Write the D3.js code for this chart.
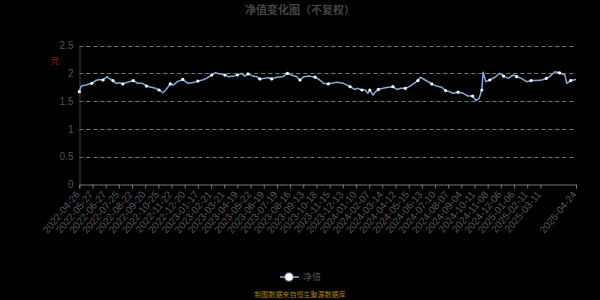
<!DOCTYPE html>
<html>
<head>
<meta charset="utf-8">
<script src="https://cdn.jsdelivr.net/npm/d3@7/dist/d3.min.js"></script>
<style>
  body { margin: 0; background: #000; }
  text { font-family: "Liberation Sans", "Noto Sans CJK SC", sans-serif; }
</style>
</head>
<body>
<script>
const width = 600,
    height = 300;

// trading-day number of each sampled point (category position) and net value
const tradeDay = [0, 3, 10, 19, 25, 31, 36, 42, 45, 51, 56, 61, 66, 71, 76, 82, 89, 96, 102, 109,
  116, 121, 127, 132, 138, 143, 149, 157, 165, 172, 180, 187, 193, 201, 206, 214, 221, 226, 234, 240,
  246, 251, 256, 264, 269, 274, 282, 288, 292, 300, 309, 316, 322, 330, 335, 341, 350, 358, 365, 371,
  378, 391, 401, 411, 418, 423, 429, 434, 438, 441, 446, 450, 454, 461, 469, 476, 482, 488, 495, 502,
  508, 514, 518, 525, 535, 542, 550, 556, 562, 567, 575, 583, 590, 597, 602, 607, 611, 613, 617, 623,
  631, 638, 644, 651, 659, 664, 671, 679, 686, 694, 702, 709, 714, 722, 729, 737, 740, 746, 754];
const navValues = [1.67, 1.77, 1.79, 1.82, 1.87, 1.89, 1.88, 1.94, 1.91, 1.87, 1.82, 1.83, 1.81, 1.83, 1.85, 1.87, 1.82, 1.82, 1.77, 1.75,
  1.73, 1.70, 1.65, 1.71, 1.81, 1.79, 1.85, 1.89, 1.82, 1.83, 1.86, 1.88, 1.91, 1.97, 2.01, 1.99, 1.97, 1.94, 1.95, 1.97,
  2.00, 1.95, 1.99, 1.95, 1.94, 1.90, 1.91, 1.92, 1.90, 1.93, 1.94, 2.00, 1.97, 1.94, 1.88, 1.94, 1.95, 1.93, 1.88, 1.82,
  1.81, 1.84, 1.82, 1.76, 1.71, 1.73, 1.70, 1.70, 1.64, 1.70, 1.61, 1.67, 1.71, 1.73, 1.75, 1.76, 1.71, 1.73, 1.73, 1.77,
  1.82, 1.87, 1.93, 1.88, 1.81, 1.77, 1.75, 1.69, 1.67, 1.64, 1.66, 1.64, 1.59, 1.59, 1.51, 1.55, 1.70, 2.02, 1.85, 1.88,
  1.93, 2.00, 1.95, 1.91, 1.97, 1.94, 1.91, 1.85, 1.87, 1.87, 1.88, 1.91, 1.94, 2.03, 2.01, 1.97, 1.82, 1.87, 1.89];

const tickLabels = ['2022-04-26', '2022-05-27', '2022-06-27', '2022-07-25', '2022-08-22', '2022-09-20',
  '2022-10-25', '2022-11-22', '2022-12-20', '2023-01-17', '2023-02-21', '2023-03-21', '2023-04-19',
  '2023-05-22', '2023-06-19', '2023-07-19', '2023-08-16', '2023-09-13', '2023-10-18', '2023-11-15',
  '2023-12-13', '2024-01-10', '2024-02-07', '2024-03-14', '2024-04-12', '2024-05-15', '2024-06-13',
  '2024-07-10', '2024-08-07', '2024-09-04', '2024-10-11', '2024-11-08', '2024-12-06', '2025-01-06',
  '2025-02-11', '2025-03-11', '2025-04-24'];
const tickDays = [0, 20, 40, 60, 80, 100, 120, 140, 160, 180, 200, 220, 240, 260, 280, 300, 320, 340,
  360, 380, 400, 420, 440, 460, 480, 500, 520, 540, 560, 580, 600, 620, 640, 660, 680, 700, 754];
const yTicks = [0, 0.5, 1, 1.5, 2, 2.5];

const data = tradeDay.map((d, i) => ({ day: d, v: navValues[i] }));

const svg = d3.select('body').append('svg')
    .attr('width', width)
    .attr('height', height)
    .style('background', '#000');

const x = d3.scaleLinear().domain([0, 754]).range([79.3, 576]);
const y = d3.scaleLinear().domain([0, 2.5]).range([184.3, 45.6]);

// grid
svg.append('g')
    .selectAll('line')
    .data(yTicks.filter(t => t > 0))
    .enter().append('line')
    .attr('x1', 79.3).attr('x2', 574)
    .attr('y1', d => Math.round(y(d)) + 0.5).attr('y2', d => Math.round(y(d)) + 0.5)
    .attr('stroke', '#777')
    .attr('stroke-dasharray', '4,3');

// y axis
const yAxis = svg.append('g')
    .attr('transform', 'translate(79.5,0)')
    .call(d3.axisLeft(y).tickValues(yTicks).tickSize(0).tickPadding(6).tickFormat(d3.format('')));
yAxis.select('.domain').attr('stroke', '#444');
yAxis.selectAll('text').attr('fill', '#555').style('font-size', '10px');

// x axis
const xAxis = svg.append('g')
    .attr('transform', 'translate(0,' + (Math.round(y(0)) + 0.5) + ')')
    .call(d3.axisBottom(x).tickValues(tickDays).tickSize(4).tickFormat((d, i) => tickLabels[i]));
xAxis.select('.domain').attr('stroke', '#777');
xAxis.selectAll('.tick line').attr('stroke', '#777');
xAxis.selectAll('text')
    .attr('fill', '#5a5a5a')
    .style('font-size', '10px')
    .attr('text-anchor', 'end')
    .attr('dy', '0.35em')
    .attr('transform', 'translate(-2,8) rotate(-50)')
    .attr('y', 0).attr('x', 0);

// unit
svg.append('text')
    .attr('x', 55).attr('y', 64)
    .attr('text-anchor', 'middle')
    .attr('fill', '#8b1c1c')
    .style('font-size', '9px')
    .text('元');

// line
const line = d3.line()
    .x(d => x(d.day))
    .y(d => y(d.v));

svg.append('path')
    .datum(data)
    .attr('fill', 'none')
    .attr('stroke', '#82aade')
    .attr('stroke-width', 1.5)
    .attr('stroke-linejoin', 'round')
    .attr('d', line);

svg.append('g')
    .selectAll('circle')
    .data(data.filter((d, i) => i % 3 === 0))
    .enter().append('circle')
    .attr('cx', d => x(d.day))
    .attr('cy', d => y(d.v))
    .attr('r', 1.6)
    .attr('fill', '#fff');

// title
svg.append('text')
    .attr('x', 300).attr('y', 14)
    .attr('text-anchor', 'middle')
    .attr('fill', '#444')
    .style('font-size', '11px')
    .style('font-weight', 'bold')
    .text('净值变化图（不复权）');

// legend
const legend = svg.append('g').attr('transform', 'translate(289,277)');
legend.append('line')
    .attr('x1', -9).attr('x2', 10)
    .attr('stroke', '#82aade').attr('stroke-width', 1.5);
legend.append('circle')
    .attr('r', 5).attr('fill', '#82aade').attr('opacity', 0.5);
legend.append('circle')
    .attr('r', 3.8).attr('fill', '#fff');
legend.append('text')
    .attr('x', 14).attr('dy', '0.35em')
    .attr('fill', '#555')
    .style('font-size', '9px')
    .text('净值');

// source
svg.append('text')
    .attr('x', 300).attr('y', 297)
    .attr('text-anchor', 'middle')
    .attr('fill', '#a8801e')
    .style('font-size', '7px')
    .text('制图数据来自恒生聚源数据库');
</script>
</body>
</html>
